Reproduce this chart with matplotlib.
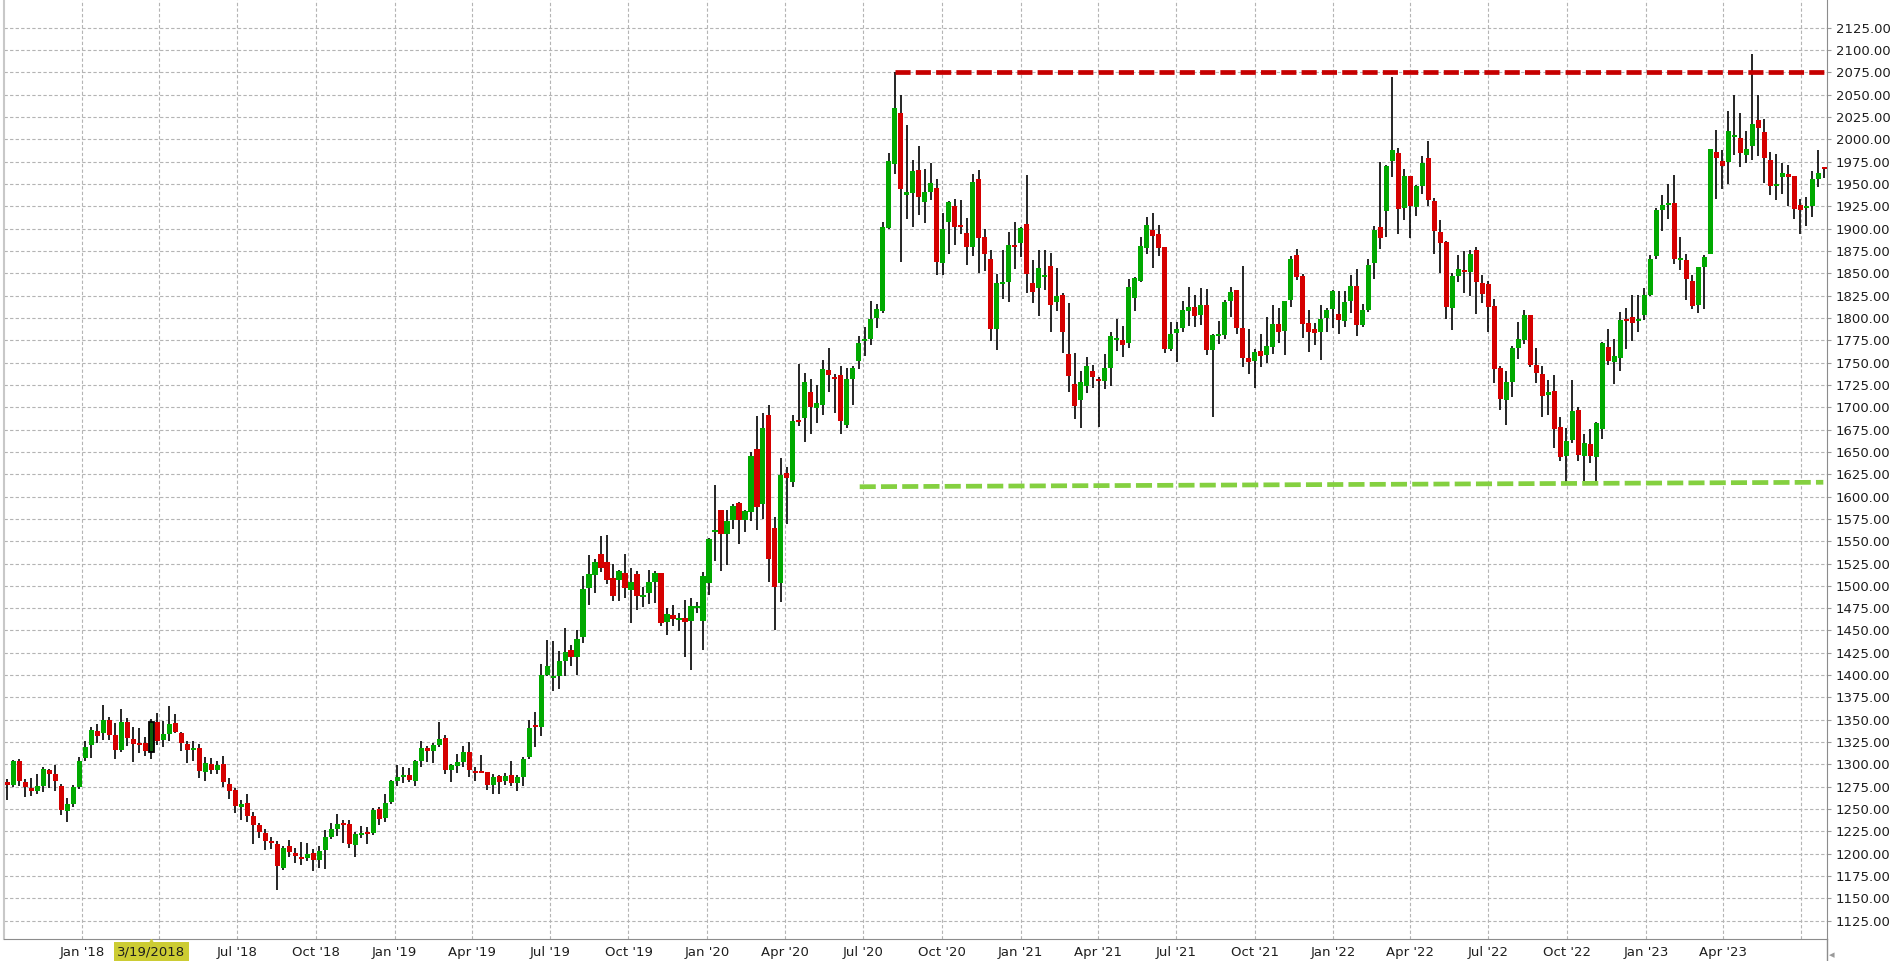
import matplotlib
matplotlib.use('Agg')
import matplotlib.pyplot as plt
import matplotlib.dates as mdates
import matplotlib.transforms as mtransforms
from matplotlib.lines import Line2D
import numpy as np
import pandas as pd

# weekly candles, first bar = week ending 2017-10-06
first_week = '2017-10-06'

opens = [
    1280.6, 1276.9, 1303.7, 1280.2, 1273.9, 1270.5, 1275.8, 1293.7, 1289.2, 1275.8,
    1248.1, 1256.0, 1275.0, 1307.5, 1322.0, 1337.3, 1335.5, 1349.6, 1332.8, 1316.0,
    1347.4, 1328.0, 1324.3, 1323.9, 1314.2, 1347.4, 1327.2, 1334.3, 1346.3, 1335.0,
    1322.8, 1316.4, 1318.3, 1291.8, 1300.4, 1294.0, 1300.4, 1278.0, 1271.3, 1252.3,
    1256.4, 1242.2, 1231.7, 1222.8, 1213.8, 1210.5, 1184.0, 1208.2, 1200.4, 1195.9,
    1195.2, 1200.4, 1192.6, 1203.7, 1218.7, 1227.6, 1234.0, 1232.8, 1209.7, 1220.9,
    1223.9, 1222.8, 1249.6, 1240.0, 1257.5, 1281.0, 1285.5, 1287.7, 1281.4, 1303.7,
    1317.9, 1314.9, 1321.3, 1329.1, 1293.3, 1297.8, 1302.2, 1313.4, 1292.6, 1293.0,
    1291.8, 1277.3, 1287.3, 1281.7, 1288.1, 1278.8, 1285.5, 1308.6, 1344.4, 1342.2,
    1400.4, 1397.4, 1399.3, 1416.1, 1428.4, 1419.8, 1442.9, 1497.8, 1512.3, 1535.8,
    1526.9, 1509.0, 1506.7, 1514.6, 1495.5, 1513.4, 1487.7, 1492.2, 1504.5, 1514.6,
    1459.7, 1467.5, 1462.0, 1464.2, 1460.8, 1475.4, 1461.1, 1503.6, 1560.8, 1585.2,
    1558.2, 1573.2, 1592.6, 1573.2, 1583.1, 1653.6, 1592.1, 1691.8, 1565.0, 1503.2,
    1626.9, 1615.8, 1686.2, 1687.5, 1716.7, 1699.5, 1703.0, 1741.2, 1734.3, 1735.6,
    1680.6, 1731.7, 1751.5, 1773.9, 1776.4, 1800.1, 1807.4, 1900.6, 1972.8, 2029.9,
    1938.0, 1940.5, 1965.9, 1930.2, 1941.4, 1945.5, 1862.0, 1907.8, 1925.4, 1904.1,
    1895.1, 1879.9, 1955.6, 1890.7, 1866.0, 1787.7, 1838.1, 1840.3, 1881.7, 1884.0,
    1905.2, 1839.2, 1833.6, 1845.9, 1858.2, 1817.9, 1825.7, 1759.7, 1726.1, 1708.2,
    1723.9, 1740.7, 1731.7, 1729.5, 1744.1, 1775.4, 1775.4, 1772.0, 1822.4, 1841.4,
    1878.4, 1898.5, 1894.0, 1879.5, 1765.3, 1783.2, 1788.8, 1807.8, 1812.3, 1803.4,
    1814.6, 1764.2, 1779.9, 1781.0, 1819.0, 1831.3, 1788.8, 1755.2, 1751.9, 1763.1,
    1758.6, 1767.5, 1793.3, 1785.4, 1820.1, 1870.5, 1847.0, 1794.4, 1787.7, 1784.3,
    1800.0, 1810.1, 1804.5, 1796.6, 1819.0, 1835.8, 1792.2, 1809.0, 1861.6, 1901.9,
    1919.8, 1975.7, 1984.7, 1923.1, 1959.0, 1924.3, 1947.8, 1979.1, 1931.0, 1896.3,
    1885.1, 1811.2, 1847.0, 1853.7, 1851.5, 1876.1, 1839.2, 1838.1, 1813.4, 1744.0,
    1708.2, 1728.4, 1766.4, 1775.4, 1803.4, 1747.4, 1737.3, 1713.8, 1718.3, 1678.0,
    1645.5, 1663.4, 1697.0, 1645.5, 1658.9, 1644.4, 1675.7, 1767.5, 1750.7, 1754.9,
    1798.1, 1801.5, 1796.3, 1803.0, 1826.1, 1869.0, 1921.3, 1927.2, 1929.1, 1864.6,
    1865.3, 1841.8, 1814.2, 1856.7, 1871.3, 1986.2, 1975.7, 1974.3, 2003.4, 2001.9,
    1982.1, 1992.2, 2021.6, 2008.2, 1976.9, 1947.4, 1957.5, 1961.6, 1959.3, 1926.9,
    1923.5, 1925.7, 1955.2, 1969.4,
]

highs = [
    1283.2, 1304.5, 1306.0, 1283.6, 1285.0, 1289.2, 1296.6, 1295.2, 1299.3, 1278.0,
    1262.3, 1276.9, 1307.8, 1326.1, 1342.2, 1345.2, 1366.4, 1352.6, 1345.9, 1361.6,
    1351.5, 1341.8, 1340.7, 1330.6, 1350.4, 1357.8, 1348.5, 1365.3, 1356.7, 1336.6,
    1326.1, 1326.1, 1322.4, 1307.8, 1306.7, 1303.7, 1309.3, 1284.3, 1273.5, 1260.5,
    1266.4, 1246.3, 1234.7, 1228.0, 1218.3, 1213.8, 1209.0, 1214.9, 1206.7, 1212.7,
    1211.6, 1204.9, 1208.2, 1226.1, 1234.0, 1244.0, 1237.3, 1237.3, 1224.3, 1230.6,
    1229.5, 1250.8, 1252.3, 1266.4, 1282.8, 1299.6, 1297.0, 1295.5, 1305.2, 1325.8,
    1320.2, 1323.5, 1347.0, 1332.5, 1300.0, 1311.2, 1320.2, 1324.6, 1297.4, 1310.8,
    1291.8, 1289.2, 1288.5, 1290.7, 1304.1, 1288.5, 1307.9, 1349.3, 1359.0, 1412.7,
    1439.6, 1438.4, 1427.2, 1453.0, 1434.0, 1450.0, 1511.2, 1534.7, 1530.2, 1556.0,
    1557.1, 1524.6, 1517.9, 1535.8, 1520.2, 1516.8, 1498.9, 1517.9, 1516.8, 1514.6,
    1475.4, 1478.7, 1469.8, 1484.3, 1486.6, 1482.1, 1515.2, 1553.9, 1612.8, 1585.2,
    1585.2, 1591.3, 1594.3, 1585.2, 1649.7, 1690.0, 1693.1, 1703.0, 1576.7, 1643.7,
    1633.4, 1691.0, 1748.1, 1738.6, 1731.3, 1724.5, 1752.4, 1766.6, 1737.8, 1745.9,
    1744.2, 1745.9, 1780.3, 1790.2, 1818.5, 1815.5, 1907.5, 1984.8, 2075.9, 2050.1,
    2016.1, 1977.1, 1993.0, 1966.7, 1973.5, 1955.6, 1917.5, 1931.0, 1933.2, 1932.1,
    1911.9, 1961.2, 1965.7, 1899.6, 1876.1, 1848.9, 1876.1, 1896.6, 1907.5, 1902.2,
    1960.1, 1864.9, 1876.1, 1876.1, 1872.8, 1856.0, 1828.0, 1816.8, 1760.8, 1740.7,
    1756.3, 1747.4, 1734.0, 1759.7, 1784.3, 1798.9, 1791.0, 1843.7, 1845.9, 1890.7,
    1913.1, 1917.5, 1904.1, 1879.5, 1795.5, 1795.5, 1819.0, 1834.7, 1825.7, 1833.6,
    1832.5, 1782.0, 1796.6, 1820.1, 1834.7, 1831.3, 1858.2, 1787.7, 1765.3, 1782.1,
    1801.1, 1814.6, 1811.2, 1819.0, 1869.4, 1877.2, 1849.3, 1809.0, 1794.4, 1814.6,
    1811.2, 1831.3, 1830.2, 1830.2, 1848.1, 1854.9, 1815.7, 1866.0, 1903.0, 1974.6,
    1971.3, 2070.0, 1990.3, 1966.8, 1959.0, 1948.9, 1981.3, 1998.1, 1934.3, 1909.7,
    1886.2, 1850.4, 1870.5, 1875.0, 1876.1, 1879.5, 1848.1, 1841.4, 1821.3, 1746.3,
    1740.7, 1768.7, 1795.5, 1809.0, 1803.4, 1766.4, 1746.3, 1730.6, 1736.2, 1689.2,
    1676.9, 1730.6, 1700.4, 1670.1, 1675.7, 1683.6, 1773.1, 1787.7, 1776.5, 1806.7,
    1811.6, 1825.4, 1825.4, 1833.6, 1870.9, 1923.1, 1938.1, 1950.4, 1960.4, 1891.0,
    1872.0, 1848.5, 1857.5, 1870.9, 1989.6, 2010.8, 1988.4, 2032.1, 2049.3, 2029.5,
    2009.3, 2095.9, 2049.3, 2023.1, 1985.8, 1984.0, 1973.9, 1971.6, 1959.3, 1933.6,
    1935.8, 1964.9, 1988.4, 1969.4,
]

lows = [
    1260.1, 1275.0, 1275.8, 1263.8, 1265.0, 1266.4, 1269.4, 1273.9, 1270.5, 1243.7,
    1235.8, 1252.6, 1272.8, 1303.7, 1307.5, 1324.3, 1327.2, 1327.2, 1306.0, 1313.8,
    1320.9, 1303.0, 1313.1, 1309.3, 1306.3, 1321.3, 1319.8, 1326.1, 1334.7, 1315.3,
    1301.9, 1304.1, 1285.0, 1281.7, 1289.6, 1289.6, 1275.0, 1261.6, 1245.9, 1237.3,
    1235.1, 1210.8, 1217.2, 1203.7, 1205.2, 1159.0, 1182.1, 1196.3, 1189.6, 1187.3,
    1191.8, 1180.6, 1184.0, 1182.9, 1216.0, 1219.8, 1211.6, 1206.4, 1196.3, 1217.6,
    1210.8, 1220.9, 1232.1, 1235.1, 1256.0, 1275.4, 1278.7, 1279.9, 1275.4, 1296.7,
    1302.2, 1301.1, 1319.4, 1289.2, 1279.9, 1290.3, 1296.7, 1285.5, 1281.4, 1290.3,
    1270.9, 1266.4, 1266.4, 1277.3, 1275.4, 1269.8, 1275.4, 1306.0, 1319.8, 1332.1,
    1398.5, 1381.7, 1384.7, 1399.3, 1410.5, 1400.4, 1436.2, 1478.7, 1492.2, 1515.7,
    1502.2, 1483.2, 1483.2, 1486.6, 1458.6, 1473.1, 1476.5, 1479.9, 1481.0, 1455.2,
    1445.2, 1455.2, 1449.6, 1420.5, 1406.0, 1469.8, 1428.4, 1490.3, 1528.1, 1516.1,
    1523.0, 1563.3, 1547.4, 1560.3, 1572.4, 1562.1, 1575.4, 1504.5, 1450.8, 1482.1,
    1568.9, 1610.2, 1679.3, 1660.9, 1669.9, 1681.9, 1691.8, 1716.7, 1693.1, 1669.9,
    1676.3, 1703.0, 1742.9, 1757.1, 1769.6, 1788.9, 1805.2, 1899.7, 1960.7, 1862.8,
    1911.3, 1901.9, 1915.6, 1906.6, 1932.5, 1848.1, 1848.1, 1872.0, 1882.1, 1894.4,
    1859.7, 1869.8, 1850.7, 1852.6, 1774.3, 1764.2, 1821.3, 1817.9, 1854.9, 1868.3,
    1828.0, 1816.8, 1802.2, 1831.3, 1784.3, 1807.8, 1760.8, 1717.2, 1686.9, 1676.9,
    1716.0, 1721.6, 1678.0, 1720.5, 1723.9, 1763.1, 1756.3, 1766.4, 1807.8, 1840.3,
    1871.6, 1856.0, 1869.4, 1760.8, 1763.1, 1750.7, 1784.3, 1791.0, 1789.9, 1792.2,
    1758.6, 1689.2, 1770.9, 1776.5, 1801.1, 1782.1, 1745.1, 1737.3, 1721.6, 1745.1,
    1749.6, 1759.7, 1772.0, 1758.6, 1812.3, 1842.5, 1777.6, 1761.9, 1769.8, 1753.0,
    1784.3, 1788.8, 1782.1, 1789.9, 1805.6, 1779.9, 1790.0, 1806.7, 1843.7, 1877.2,
    1890.7, 1957.8, 1894.0, 1909.7, 1889.6, 1914.2, 1938.8, 1925.4, 1871.6, 1850.4,
    1798.9, 1786.6, 1840.3, 1828.0, 1824.6, 1804.5, 1816.8, 1784.3, 1727.2, 1697.0,
    1680.2, 1711.6, 1754.1, 1770.9, 1745.1, 1727.2, 1689.2, 1691.4, 1654.5, 1639.9,
    1615.3, 1660.1, 1639.9, 1617.5, 1637.7, 1617.5, 1664.6, 1747.4, 1726.1, 1740.3,
    1765.7, 1773.9, 1784.3, 1797.4, 1824.3, 1865.7, 1897.0, 1911.2, 1860.8, 1853.4,
    1819.8, 1809.7, 1805.2, 1809.7, 1871.3, 1933.6, 1944.0, 1949.6, 1982.1, 1968.7,
    1973.9, 1976.5, 1981.1, 1951.5, 1937.3, 1931.7, 1938.4, 1925.0, 1910.4, 1893.7,
    1902.6, 1912.7, 1946.3, 1957.1,
]

closes = [
    1276.9, 1303.7, 1281.7, 1275.0, 1270.5, 1275.8, 1294.8, 1289.6, 1281.7, 1249.3,
    1255.6, 1275.0, 1303.7, 1319.4, 1338.4, 1332.1, 1349.6, 1332.8, 1316.0, 1347.4,
    1329.9, 1323.1, 1321.6, 1315.3, 1347.0, 1326.1, 1334.0, 1345.2, 1336.6, 1324.3,
    1316.4, 1318.3, 1292.9, 1301.1, 1294.0, 1299.3, 1280.6, 1270.5, 1253.7, 1255.2,
    1242.2, 1232.1, 1223.9, 1214.2, 1212.0, 1185.8, 1206.0, 1201.9, 1197.4, 1193.7,
    1199.6, 1192.6, 1202.6, 1218.3, 1227.3, 1232.8, 1232.1, 1210.8, 1221.7, 1223.1,
    1222.0, 1248.5, 1238.8, 1256.4, 1281.0, 1285.5, 1287.7, 1282.1, 1303.7, 1317.9,
    1314.9, 1321.3, 1328.0, 1293.3, 1298.9, 1302.2, 1313.4, 1293.3, 1291.1, 1291.1,
    1276.5, 1286.2, 1279.9, 1287.3, 1278.8, 1286.2, 1306.4, 1341.1, 1342.2, 1400.4,
    1410.5, 1399.3, 1416.1, 1426.1, 1419.8, 1440.7, 1496.6, 1513.4, 1526.9, 1520.2,
    1506.7, 1488.8, 1516.8, 1497.8, 1504.5, 1488.8, 1489.9, 1504.5, 1514.6, 1458.6,
    1468.7, 1463.1, 1464.2, 1459.7, 1477.6, 1477.6, 1510.5, 1552.6, 1562.9, 1558.2,
    1572.8, 1589.5, 1573.2, 1584.0, 1645.0, 1587.8, 1677.2, 1530.3, 1498.9, 1624.4,
    1621.3, 1684.1, 1684.1, 1728.7, 1700.8, 1704.3, 1742.9, 1735.6, 1731.7, 1684.9,
    1731.3, 1743.8, 1771.7, 1776.0, 1798.3, 1809.9, 1901.9, 1975.8, 2035.5, 1944.0,
    1941.0, 1964.6, 1935.0, 1941.0, 1951.1, 1863.1, 1899.6, 1929.9, 1902.2, 1902.2,
    1879.9, 1952.2, 1889.9, 1872.0, 1787.7, 1839.2, 1840.3, 1881.7, 1879.5, 1900.7,
    1849.3, 1829.1, 1856.0, 1848.1, 1814.6, 1824.6, 1784.3, 1735.1, 1701.5, 1728.4,
    1746.3, 1734.0, 1729.5, 1744.1, 1779.9, 1777.6, 1769.8, 1834.7, 1844.8, 1880.6,
    1904.1, 1891.8, 1878.4, 1765.3, 1782.1, 1787.7, 1809.0, 1812.3, 1802.2, 1814.6,
    1764.2, 1781.0, 1782.1, 1817.9, 1829.1, 1788.8, 1755.2, 1750.7, 1761.9, 1757.5,
    1768.7, 1793.3, 1784.3, 1819.0, 1866.0, 1845.9, 1793.3, 1784.3, 1783.2, 1798.9,
    1809.0, 1830.2, 1797.8, 1817.9, 1835.8, 1792.2, 1809.0, 1859.3, 1898.5, 1889.6,
    1970.1, 1988.1, 1922.0, 1959.0, 1925.4, 1947.8, 1973.5, 1932.1, 1897.4, 1884.0,
    1812.3, 1847.0, 1854.9, 1851.5, 1871.6, 1840.3, 1826.9, 1812.3, 1742.9, 1709.3,
    1728.4, 1766.4, 1776.5, 1803.4, 1747.4, 1738.4, 1712.7, 1717.2, 1675.7, 1644.4,
    1662.3, 1695.9, 1646.6, 1660.1, 1645.5, 1682.5, 1772.0, 1751.9, 1757.5, 1798.1,
    1796.3, 1794.0, 1799.3, 1826.1, 1866.4, 1921.3, 1926.9, 1929.1, 1865.7, 1866.8,
    1843.3, 1813.4, 1857.5, 1868.7, 1989.6, 1978.7, 1969.8, 2009.7, 2005.2, 1984.3,
    1989.6, 2017.2, 2012.3, 1978.7, 1947.4, 1949.6, 1962.7, 1957.5, 1921.6, 1920.5,
    1925.7, 1956.0, 1962.7, 1967.2,
]

# trend lines drawn on the chart
resistance_level = 2075.0
resistance_start = '2020-08-07'
support_levels = [1611.0, 1616.0]
support_dates = ['2020-06-27', '2023-07-27']

# x axis: quarter gridlines (Apr '18 is covered by the crosshair label)
tick_dates = pd.date_range('2018-01-01', '2023-07-01', freq='QS')
tick_labels = ["Jan '18", "", "Jul '18", "Oct '18",
               "Jan '19", "Apr '19", "Jul '19", "Oct '19",
               "Jan '20", "Apr '20", "Jul '20", "Oct '20",
               "Jan '21", "Apr '21", "Jul '21", "Oct '21",
               "Jan '22", "Apr '22", "Jul '22", "Oct '22",
               "Jan '23", "Apr '23", ""]
crosshair_date = '2018-03-23'
crosshair_label = '3/19/2018'
highlight_idx = 24

GREEN = '#00a900'
RED = '#d50000'
GRID = '#b4b4b4'

dates = pd.date_range(first_week, periods=len(opens), freq='7D')
x = mdates.date2num(dates)
o = np.array(opens)
h = np.array(highs)
l = np.array(lows)
c = np.array(closes)

fig = plt.figure(figsize=(18.97, 9.61), dpi=100)
ax = fig.add_axes([4.3 / 1897, 22 / 961, (1827 - 4.3) / 1897, 939 / 961])

# wicks then bodies
ax.vlines(x, l, h, color='black', lw=1.2, zorder=2)
up = c >= o
body = np.abs(c - o)
bottom = np.minimum(o, c)
small = body < 2.2
bottom = np.where(small, (o + c) / 2 - 1.1, bottom)
body = np.where(small, 2.2, body)
bars = ax.bar(x, body, bottom=bottom, width=6.0,
              color=np.where(up, GREEN, RED), linewidth=0, zorder=3)
bars[highlight_idx].set_facecolor('#0b5f0b')
bars[highlight_idx].set_edgecolor('black')
bars[highlight_idx].set_linewidth(1.3)

# limits
x_left = x[0] - 3.7
x_right = x[-1] + 3.3
ax.set_xlim(x_left, x_right)
ax.set_ylim(1104.5, 2156.1)

# resistance / support dashed lines
ax.plot([mdates.date2num(pd.Timestamp(resistance_start)), x_right],
        [resistance_level, resistance_level], color='#c60000', lw=3.4,
        linestyle=(0, (3.2, 1.1)), zorder=4, solid_capstyle='butt')
ax.plot(mdates.date2num(pd.to_datetime(support_dates)), support_levels,
        color='#84d040', lw=3.4, linestyle=(0, (3.4, 1.1)), zorder=4)

# grid
ax.set_yticks(np.arange(1125, 2126, 25))
ax.yaxis.set_major_formatter(matplotlib.ticker.FormatStrFormatter('%.2f'))
ax.set_xticks(mdates.date2num(tick_dates))
ax.set_xticklabels(tick_labels)
ax.grid(True, color=GRID, linestyle=(0, (3, 2)), linewidth=0.8, zorder=0)
ax.set_axisbelow(True)

ax.yaxis.tick_right()
ax.tick_params(axis='y', which='both', length=3, color='#9a9a9a', pad=3.5,
               labelsize=9.5, labelcolor='#1e1e1e')
ax.tick_params(axis='x', which='both', length=0, pad=5,
               labelsize=9.5, labelcolor='#1e1e1e')

ax.spines['top'].set_visible(False)
ax.spines['bottom'].set_color('#8c8c8c')
ax.spines['right'].set_color('#8c8c8c')
ax.spines['left'].set_color('#c8c8c8')
ax.spines['left'].set_linewidth(1.5)

# crosshair date label on the x axis
xc = mdates.date2num(pd.Timestamp(crosshair_date))
ax.annotate(crosshair_label, xy=(xc, 0), xycoords=('data', 'axes fraction'),
            xytext=(0, -9.3), textcoords='offset points', ha='center', va='center',
            fontsize=9.5, color='#1e1e1e', annotation_clip=False,
            bbox=dict(boxstyle='square,pad=0.25', fc='#cccc33', ec='none'))
trans = mtransforms.blended_transform_factory(ax.transData, ax.transAxes)
ax.plot([xc], [-0.0035], marker='^', ms=5, color='#cccc33', transform=trans,
        clip_on=False, zorder=5)

# right spine continues below the axis, small scroll arrow
fig.add_artist(Line2D([1827 / 1897, 1827 / 1897], [0, 22 / 961], color='#8c8c8c',
                      lw=1, transform=fig.transFigure))
fig.text(1832 / 1897, 1 - 955 / 961, '\u25c2', color='#9a9a9a', fontsize=8,
         ha='center', va='center')

fig.savefig('out.png', dpi=100)
